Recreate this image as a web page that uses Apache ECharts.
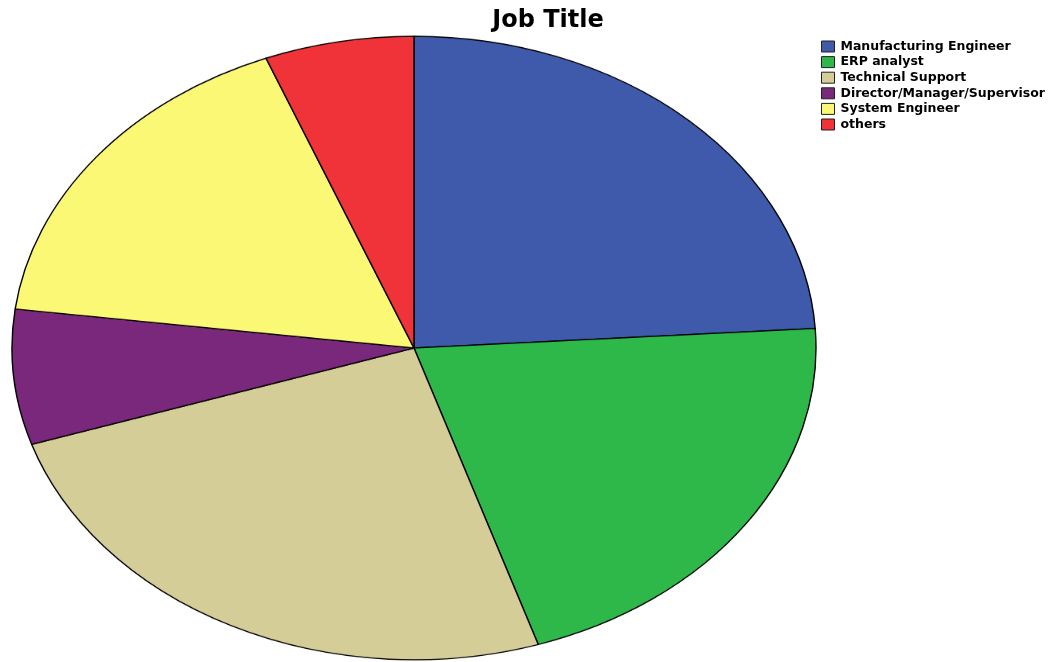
<!DOCTYPE html>
<html>
<head>
<meta charset="utf-8">
<script src="https://cdn.jsdelivr.net/npm/echarts@6/dist/echarts.min.js"></script>
<style>
  html, body { margin: 0; padding: 0; background: #fff; }
  #wrap { position: relative; width: 1056px; height: 662px; overflow: hidden; }
  /* the pie is drawn round, then squashed vertically into an ellipse */
  #pie { position: absolute; left: 11px; top: -55px; width: 806px; height: 806px;
         transform: scaleY(0.7755); transform-origin: 50% 50%; }
  #frame { position: absolute; left: 0; top: 0; width: 1056px; height: 662px; }
</style>
</head>
<body>
<div id="wrap">
  <div id="pie"></div>
  <div id="frame"></div>
</div>
<script>
// Job title breakdown (percent of respondents)
const categories = [
  'Manufacturing Engineer',
  'ERP analyst',
  'Technical Support',
  'Director/Manager/Supervisor',
  'System Engineer',
  'others'
];
const shares = [24, 21, 25, 7, 17, 6];
const colors = ['#3F59AB', '#2EB84A', '#D4CD98', '#79287B', '#FBF876', '#EF3338'];
const chartTitle = 'Job Title';

const pieData = categories.map((name, i) => ({
  name: name,
  value: shares[i],
  itemStyle: { color: colors[i] }
}));

const pie = echarts.init(document.getElementById('pie'), null, { renderer: 'canvas' });
pie.setOption({
  animation: false,
  series: [{
    type: 'pie',
    center: [403, 403],
    radius: [0, 402],
    startAngle: 90,
    clockwise: true,
    label: { show: false },
    labelLine: { show: false },
    emphasis: { disabled: true },
    itemStyle: { borderColor: '#000', borderWidth: 1.4 },
    data: pieData
  }]
});

const frame = echarts.init(document.getElementById('frame'), null, { renderer: 'canvas' });
frame.setOption({
  animation: false,
  title: {
    text: chartTitle,
    left: 543,
    top: 4,
    textAlign: 'center',
    textStyle: { fontFamily: 'DejaVu Sans', fontWeight: 'bold', fontSize: 24, color: '#000' }
  },
  legend: {
    orient: 'vertical',
    left: 816,
    top: 35,
    itemWidth: 13,
    itemHeight: 11,
    itemGap: 2.6,
    icon: 'rect',
    selectedMode: false,
    itemStyle: { borderColor: '#222', borderWidth: 1 },
    textStyle: { fontFamily: 'DejaVu Sans', fontWeight: 'bold', fontSize: 12.5, color: '#000', padding: [0, 0, 0, 1] },
    data: categories
  },
  series: [{
    type: 'pie',
    radius: [0, 0],
    silent: true,
    label: { show: false },
    labelLine: { show: false },
    data: pieData
  }]
});
</script>
</body>
</html>
